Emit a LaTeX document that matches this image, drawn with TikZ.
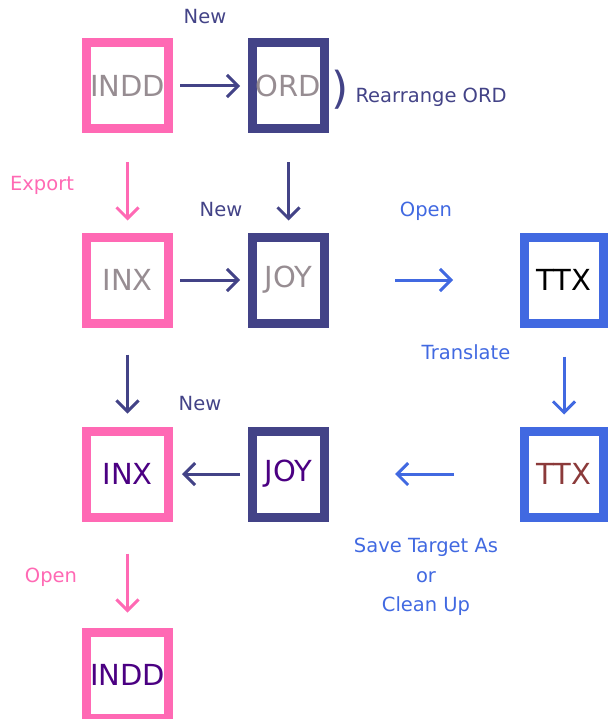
\documentclass[tikz,border=0pt]{standalone}
\usepackage{fontspec}
\setmainfont{DejaVu Sans}
\usetikzlibrary{arrows.meta}
\usepackage{xcolor}
\definecolor{hotpink}{HTML}{FF69B4}
\definecolor{navy}{HTML}{434387}
\definecolor{royal}{HTML}{4169E1}
\definecolor{greytxt}{HTML}{978D92}
\definecolor{indigotxt}{HTML}{4B0082}
\definecolor{browntxt}{HTML}{8B3A3A}

\begin{document}
\begin{tikzpicture}[x=1pt,y=-1pt,
  box/.style={draw,line width=9pt,outer sep=4.5pt,inner sep=0pt,minimum height=86pt,
    font=\fontsize{29}{31}\selectfont},
  pinkbox/.style={box,draw=hotpink,minimum width=82pt},
  navybox/.style={box,draw=navy,minimum width=72pt},
  bluebox/.style={box,draw=royal,minimum width=79pt},
  lbl/.style={font=\fontsize{19.5}{29.5}\selectfont,align=center},
  arr/.style={line width=3pt,-{Straight Barb[length=11pt,width=22pt,line width=3pt]}}]
  \useasboundingbox (0,0) rectangle (608,719);
  % boxes
  \node[pinkbox,text=greytxt] (indd) at (127.5,86) {INDD};
  \node[navybox,text=greytxt] (ord) at (288.5,86) {ORD};
  \node[pinkbox,text=greytxt] (inx) at (127.5,280) {INX};
  \node[navybox,text=greytxt] (joy) at (288.5,280) {JOY};
  \node[bluebox,text=black] (ttx) at (564,280) {TTX};
  \node[pinkbox,text=indigotxt] (inxb) at (127.5,474) {INX};
  \node[navybox,text=indigotxt] (joyb) at (288.5,474) {JOY};
  \node[bluebox,text=browntxt] (ttxb) at (564,474) {TTX};
  \node[pinkbox,text=indigotxt] (inddb) at (127.5,675) {INDD};
  % labels
  \node[lbl,text=navy] (new1) at (205,17) {New};
  \node[text=navy,font=\fontsize{44}{48}\selectfont] (paren) at (340,90) {)};
  \node[lbl,text=navy,anchor=west] (rearr) at (352,97) {Rearrange ORD};
  \node[lbl,text=hotpink] (export) at (42,185) {Export};
  \node[lbl,text=navy] (new2) at (221,210) {New};
  \node[lbl,text=royal] (open1) at (426,211) {Open};
  \node[lbl,text=royal] (transl) at (466,352) {Translate};
  \node[lbl,text=navy] (new3) at (200,404) {New};
  \node[lbl,text=royal] (save) at (426,577) {Save Target As\\or\\Clean Up};
  \node[lbl,text=hotpink] (open2) at (51,577) {Open};
  % arrows
  \draw[arr,navy,shorten <=7pt,shorten >=8pt] (indd) -- (ord);
  \draw[arr,hotpink,shorten <=29pt,shorten >=12pt] (indd) -- (inx);
  \draw[arr,navy,shorten <=29pt,shorten >=12pt] (ord) -- (joy);
  \draw[arr,navy,shorten <=7pt,shorten >=8pt] (inx) -- (joy);
  \draw[arr,royal,shorten <=66pt,shorten >=67pt] (joy) -- (ttx);
  \draw[arr,royal,shorten <=29pt,shorten >=12pt] (ttx) -- (ttxb);
  \draw[arr,navy,shorten <=27pt,shorten >=13pt] (inx) -- (inxb);
  \draw[arr,navy,shorten <=8pt,shorten >=9pt] (joyb) -- (inxb);
  \draw[arr,royal,shorten <=66pt,shorten >=66pt] (ttxb) -- (joyb);
  \draw[arr,hotpink,shorten <=32pt,shorten >=15pt] (inxb) -- (inddb);
\end{tikzpicture}
\end{document}
